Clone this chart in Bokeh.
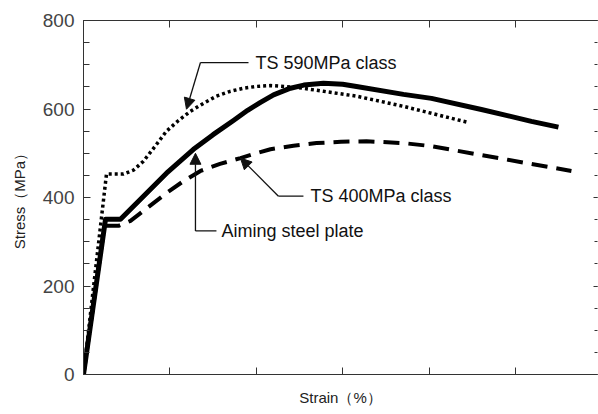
from bokeh.plotting import figure
from bokeh.models import Range1d, FixedTicker, LinearAxis, Arrow, NormalHead, ColumnDataSource
from bokeh.core.properties import value
from bokeh.embed import file_html
from bokeh.resources import INLINE

# ---- data (strain in tick units, stress in MPa) ----
aim_strain = [0.0, 0.255, 0.428, 0.961, 1.273, 1.5, 1.736, 1.9, 2.049, 2.2, 2.396, 2.55, 2.778, 3.0, 3.160, 3.704, 4.028, 4.606, 5.185, 5.498]
aim_stress = [0, 351, 351, 455, 509, 542, 574, 597, 615, 632, 647, 654, 658, 656, 651, 633, 624, 599, 572, 559]

ts590_strain = [0.0, 0.266, 0.463, 0.58, 0.694, 0.83, 0.961, 1.1, 1.238, 1.39, 1.539, 1.7, 1.852, 2.0, 2.164, 2.465, 2.778, 3.160, 3.704, 4.444]
ts590_stress = [0, 453, 453, 462, 482, 516, 550, 574, 595, 613, 629, 640, 647, 651, 653, 649, 640, 629, 606, 570]

ts400_strain = [0.0, 0.243, 0.405, 0.544, 0.961, 1.15, 1.354, 1.58, 1.817, 2.0, 2.164, 2.43, 2.697, 2.98, 3.275, 3.704, 4.028, 4.803, 5.648]
ts400_stress = [0, 336, 336, 347, 410, 436, 460, 476, 489, 500, 509, 517, 523, 526, 527, 523, 516, 489, 460]

y_ticks = [0, 200, 400, 600, 800]
x_ticks = [0, 1, 2, 3, 4, 5, 6]

FONT = "Liberation Sans"

p = figure(width=598, height=414, output_backend="svg", toolbar_location=None,
           x_range=Range1d(0, 5.95), y_range=Range1d(0, 800),
           min_border_left=83, min_border_top=20, min_border_bottom=40, min_border_right=1)
p.grid.visible = False
p.outline_line_color = None
p.background_fill_color = "white"
p.border_fill_color = "white"


def hide_labels(ax):
    ax.major_label_text_color = None
    ax.major_label_text_font_size = "1px"
    ax.major_label_standoff = 0


# left axis
ya = p.yaxis[0]
ya.ticker = FixedTicker(ticks=y_ticks, minor_ticks=list(range(0, 801, 50)))
ya.major_tick_in = 7
ya.major_tick_out = 0
ya.minor_tick_in = 6
ya.minor_tick_out = 0
ya.axis_line_color = "#333333"
ya.major_tick_line_color = "#333333"
ya.minor_tick_line_color = "#333333"
ya.major_label_text_font = FONT
ya.major_label_text_font_size = "19px"
ya.major_label_text_color = "#444444"
ya.major_label_standoff = 9
ya.axis_label = "Stress（MPa）"
ya.axis_label_text_font = FONT
ya.axis_label_text_font_size = "15px"
ya.axis_label_text_font_style = "normal"
ya.axis_label_text_color = "#222222"
ya.axis_label_standoff = 12

# bottom axis
xa = p.xaxis[0]
xa.ticker = FixedTicker(ticks=x_ticks)
xa.major_tick_in = 7
xa.major_tick_out = 0
xa.minor_tick_line_color = None
xa.axis_line_color = "#333333"
xa.major_tick_line_color = "#333333"
hide_labels(xa)
xa.axis_label = "Strain（%）"
xa.axis_label_text_font = FONT
xa.axis_label_text_font_size = "15px"
xa.axis_label_text_font_style = "normal"
xa.axis_label_text_color = "#222222"
xa.axis_label_standoff = 14

# top axis
ta = LinearAxis(ticker=FixedTicker(ticks=x_ticks), major_tick_in=7, major_tick_out=0,
                minor_tick_line_color=None, axis_line_color="#333333",
                major_tick_line_color="#333333")
hide_labels(ta)
p.add_layout(ta, "above")

# right axis (frame edge cropped)
ra = LinearAxis(ticker=FixedTicker(ticks=y_ticks, minor_ticks=list(range(0, 801, 50))),
                major_tick_in=4, major_tick_out=0, minor_tick_in=3, minor_tick_out=0,
                axis_line_color=None, major_tick_line_color="#333333",
                minor_tick_line_color="#333333")
hide_labels(ra)
p.add_layout(ra, "right")

# curves
p.line(ts400_strain, ts400_stress, line_color="black", line_width=4, line_dash="16 9",
       line_join="round")
p.line(ts590_strain, ts590_stress, line_color="black", line_width=3.5, line_dash="3 3",
       line_join="round")
p.line(aim_strain, aim_stress, line_color="black", line_width=5, line_join="round")

# annotations
ann_labels = ["TS 590MPa class", "TS 400MPa class", "Aiming steel plate"]
ann_text_x = [1.99, 2.627, 1.597]
ann_text_y = [703, 403, 324.5]
ann_line_end_x = [1.910, 2.546, 1.539]
ann_corner_x = [1.354, 2.257, 1.296]
ann_corner_y = [705, 403, 324.5]
ann_tip_x = [1.192, 1.817, 1.296]
ann_tip_y = [599.5, 489, 500]

for i in range(3):
    p.line([ann_line_end_x[i], ann_corner_x[i]], [ann_corner_y[i], ann_corner_y[i]],
           line_color="#111111", line_width=1.3)
    p.add_layout(Arrow(end=NormalHead(size=11, fill_color="#111111", line_color="#111111"),
                       x_start=ann_corner_x[i], y_start=ann_corner_y[i],
                       x_end=ann_tip_x[i], y_end=ann_tip_y[i],
                       line_color="#111111", line_width=1.3))

src = ColumnDataSource(dict(x=ann_text_x, y=ann_text_y, t=ann_labels))
p.text(x="x", y="y", text="t", source=src, text_font=value(FONT), text_font_size="18px",
       text_baseline="middle", text_align="left", text_color="#111111")

open("out.html", "w").write(file_html(p, INLINE))
